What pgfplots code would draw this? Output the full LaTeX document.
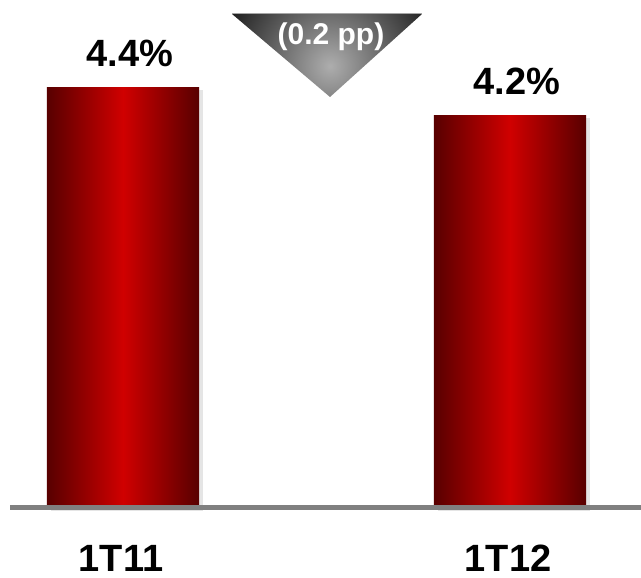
\documentclass[border=0pt]{standalone}
\usepackage{pgfplots}
\pgfplotsset{compat=1.18}
\usepackage{fontspec}
\setmainfont{Liberation Sans}
\definecolor{bardark}{RGB}{88,0,0}
\definecolor{barmid}{RGB}{208,0,0}
\definecolor{basegray}{RGB}{128,128,128}
\begin{document}
\begin{tikzpicture}
\useasboundingbox (0,0) rectangle (641pt,578pt);
\begin{axis}[
  at={(10pt,70pt)}, anchor=south west,
  scale only axis,
  width=631pt, height=505pt,
  xmin=-0.292, xmax=1.3385,
  ymin=1.4, ymax=5.0,
  axis line style={draw=none},
  major tick length=0pt,
  ymajorticks=false,
  xtick={0,1},
  xticklabels={1T11,1T12},
  xticklabel style={font=\fontsize{38}{44}\selectfont\bfseries, anchor=center, yshift=-50pt, xshift=-2pt},
  /pgf/number format/assume math mode=true,
  clip=false,
]
% soft shadows
\addplot[draw=none, fill=black, fill opacity=0.10, forget plot, xshift=4pt, yshift=-3pt]
  coordinates {(-0.1964,1.4) (-0.1964,4.4) (0.1964,4.4) (0.1964,1.4)} -- cycle;
\addplot[draw=none, fill=black, fill opacity=0.10, forget plot, xshift=4pt, yshift=-3pt]
  coordinates {(0.8036,1.4) (0.8036,4.2) (1.1964,4.2) (1.1964,1.4)} -- cycle;
% shaded bars
\addplot[draw=none, left color=bardark, right color=bardark, middle color=barmid, forget plot]
  coordinates {(-0.1964,1.4) (-0.1964,4.4) (0.1964,4.4) (0.1964,1.4)} -- cycle;
\addplot[draw=none, left color=bardark, right color=bardark, middle color=barmid, forget plot]
  coordinates {(0.8036,1.4) (0.8036,4.2) (1.1964,4.2) (1.1964,1.4)} -- cycle;
% value labels
\addplot[ybar, bar width=152pt, draw=none, fill=none,
  nodes near coords={\pgfmathprintnumber[fixed,precision=1]{\pgfplotspointmeta}\%},
  nodes near coords style={font=\fontsize{38}{44}\selectfont\bfseries, text=black, anchor=center, yshift=34pt, xshift=7pt},
] coordinates {(0,4.4) (1,4.2)};
\draw[basegray, line width=5pt] (axis cs:-0.292,1.4) -- (axis cs:1.3385,1.4);
\end{axis}
\begin{scope}
\clip (232pt,564pt) -- (422pt,564pt) -- (330pt,481pt) -- cycle;
\shade[inner color=black!32, outer color=black!88] (330pt,512pt) circle (112pt);
\end{scope}
\draw[black!35, line width=1pt] (232pt,564pt) -- (422pt,564pt);
\node[text=white, font=\fontsize{30}{36}\selectfont\bfseries] at (331pt,541pt) {(0.2 pp)};
\end{tikzpicture}
\end{document}
